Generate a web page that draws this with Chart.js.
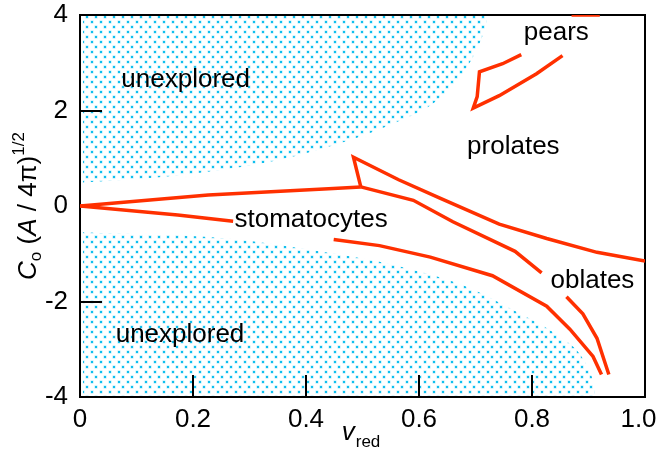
<!DOCTYPE html>
<html>
<head>
<meta charset="utf-8">
<script src="https://cdn.jsdelivr.net/npm/chart.js@4.4.1/dist/chart.umd.min.js"></script>
<style>
  html, body { margin: 0; padding: 0; background: #fff; }
  #wrap { width: 657px; height: 450px; }
</style>
</head>
<body>
<div id="wrap"><canvas id="c" width="657" height="450"></canvas></div>
<script>
// ---------- data ----------
const xTickValues = [0, 0.2, 0.4, 0.6, 0.8, 1.0];
const xTickLabels = ['0', '0.2', '0.4', '0.6', '0.8', '1.0'];
const yTickValues = [-4, -2, 0, 2, 4];
const yTickLabels = ['-4', '-2', '0', '2', '4'];
const xInnerTicks = [0.2, 0.4, 0.6, 0.8];
const yInnerTicks = [-2, 2];

// boundary of the upper "unexplored" region
const upperUnexploredX = [0.005, 0.15, 0.33, 0.44, 0.559, 0.635, 0.694, 0.72, 0.722];
const upperUnexploredY = [0.49, 0.61, 0.91, 1.24, 1.75, 2.24, 3.09, 3.87, 4.0];
// boundary of the lower "unexplored" region
const lowerUnexploredX = [0.005, 0.26, 0.44, 0.56, 0.68, 0.77, 0.85, 0.89, 0.91, 0.912];
const lowerUnexploredY = [-0.55, -0.68, -0.98, -1.25, -1.67, -2.2, -2.75, -3.2, -3.8, -4.0];

// upper stomatocyte boundary
const stomaUpperX = [0, 0.227, 0.44, 0.497];
const stomaUpperY = [0, 0.23, 0.36, 0.40];
// lower stomatocyte boundary (gap under the label)
const stomaLowerX = [0, 0.173, 0.271, null, 0.449, 0.53, 0.62, 0.73, 0.826, 0.867, 0.908, 0.923];
const stomaLowerY = [0, -0.19, -0.32, null, -0.70, -0.83, -1.07, -1.46, -2.10, -2.58, -3.15, -3.53];
// spike and upper oblate boundary
const oblateUpperX = [0.497, 0.484, 0.564, 0.636, 0.742, 0.826, 0.915, 1.0];
const oblateUpperY = [0.40, 1.02, 0.55, 0.17, -0.38, -0.68, -0.97, -1.15];
// lower oblate boundary (gap under the label)
const oblateLowerX = [0.497, 0.59, 0.66, 0.77, 0.817, null, 0.861, 0.890, 0.915, 0.936];
const oblateLowerY = [0.40, 0.12, -0.33, -0.95, -1.40, null, -1.90, -2.26, -2.77, -3.53];
// pear region (gap under the label)
const pearsX = [0.87, 0.92, null, 0.854, 0.808, 0.742, 0.696, 0.703, 0.707, 0.748, 0.781];
const pearsY = [4.0, 4.0, null, 3.15, 2.77, 2.31, 2.05, 2.29, 2.81, 2.98, 3.17];

// region labels (x centre, y baseline in data units)
const regionLabels = ['unexplored', 'unexplored', 'stomatocytes', 'prolates', 'pears', 'oblates'];
const regionLabelX = [0.187, 0.177, 0.409, 0.767, 0.843, 0.907];
const regionLabelY = [2.50, -2.84, -0.44, 1.08, 3.47, -1.71];

// ---------- styling ----------
const FONT = '"Liberation Sans", Arial, Helvetica, sans-serif';
const RED = '#ff3000';
const DOT = '#10bfee';
const DOT_HALO = 'rgba(16,191,238,0.35)';

function pts(xs, ys) { return xs.map((x, i) => ({ x: x, y: ys[i] })); }

const ctx = document.getElementById('c').getContext('2d');

function dotPattern() {
  const c = document.createElement('canvas');
  c.width = 9; c.height = 10;
  const g = c.getContext('2d');
  [[1, 1], [5, 6]].forEach(([x, y]) => {
    g.fillStyle = DOT_HALO;
    g.fillRect(x - 0.5, y - 0.5, 3, 3);
    g.fillStyle = DOT;
    g.fillRect(x, y, 2, 2);
  });
  return ctx.createPattern(c, 'repeat');
}
const pattern = dotPattern();

function regionDs(xs, ys, fillTo) {
  return {
    data: pts(xs, ys), fill: fillTo, backgroundColor: pattern,
    borderWidth: 0, borderColor: 'rgba(0,0,0,0)', pointRadius: 0,
    tension: 0.3, cubicInterpolationMode: 'monotone', order: 2, isRegion: true
  };
}
function curveDs(xs, ys) {
  return {
    data: pts(xs, ys), fill: false, borderColor: RED, borderWidth: 3.5,
    pointRadius: 0, tension: 0, spanGaps: false, borderJoinStyle: 'miter',
    borderCapStyle: 'butt', order: 1, isCurve: true
  };
}

function drawFrame(chart) {
  const a = chart.chartArea, c = chart.ctx;
  const xs = chart.scales.x, ys = chart.scales.y;
  c.save();
  c.strokeStyle = '#000';
  c.lineWidth = 2;
  c.strokeRect(a.left, a.top, a.right - a.left, a.bottom - a.top);
  c.beginPath();
  xInnerTicks.forEach(v => {
    const p = Math.round(xs.getPixelForValue(v));
    c.moveTo(p, a.bottom); c.lineTo(p, a.bottom - 22);
  });
  yInnerTicks.forEach(v => {
    const p = Math.round(ys.getPixelForValue(v));
    c.moveTo(a.left, p); c.lineTo(a.left + 22, p);
  });
  c.stroke();
  c.restore();
}

const overlay = {
  id: 'overlay',
  beforeDatasetsDraw(chart) { chart.$frameDone = false; },
  beforeDatasetDraw(chart, args) {
    if (!chart.$frameDone && chart.data.datasets[args.index].isCurve) {
      drawFrame(chart); chart.$frameDone = true;
    }
  },
  afterDatasetsDraw(chart) {
    if (!chart.$frameDone) { drawFrame(chart); chart.$frameDone = true; }
    const c = chart.ctx, xs = chart.scales.x, ys = chart.scales.y;
    c.save();
    c.fillStyle = '#000';
    c.font = '26px ' + FONT;
    c.textAlign = 'center';
    c.textBaseline = 'alphabetic';
    regionLabels.forEach((t, i) => {
      c.fillText(t, xs.getPixelForValue(regionLabelX[i]), ys.getPixelForValue(regionLabelY[i]));
    });
    c.restore();
  },
  afterDraw(chart) {
    const c = chart.ctx, a = chart.chartArea;
    c.save();
    c.fillStyle = '#000';
    c.textBaseline = 'alphabetic';
    c.textAlign = 'left';
    // x title: v_red
    const big = '26px ' + FONT, bigI = 'italic 26px ' + FONT, small = '17px ' + FONT;
    c.font = bigI; const wv = c.measureText('v').width;
    c.font = small; const wr = c.measureText('red').width;
    let x0 = (a.left + a.right) / 2 - (wv + wr) / 2 - 2;
    c.font = bigI; c.fillText('v', x0, 440);
    c.font = small; c.fillText('red', x0 + wv + 1, 447);
    // y title: C_o (A / 4π)^{1/2}
    const parts = [
      { t: 'C', f: bigI, dy: 0 },
      { t: 'o', f: small, dy: 5 },
      { t: ' (', f: big, dy: 0 },
      { t: 'A', f: bigI, dy: 0 },
      { t: ' / 4π)', f: big, dy: 0 },
      { t: '1/2', f: small, dy: -12 }
    ];
    let total = 0;
    parts.forEach(p => { c.font = p.f; p.w = c.measureText(p.t).width; total += p.w; });
    c.translate(36, (a.top + a.bottom) / 2);
    c.rotate(-Math.PI / 2);
    let px = -total / 2;
    parts.forEach(p => { c.font = p.f; c.fillText(p.t, px, p.dy); px += p.w; });
    c.restore();
  }
};

new Chart(ctx, {
  type: 'line',
  data: {
    datasets: [
      regionDs(upperUnexploredX, upperUnexploredY, 'end'),
      regionDs(lowerUnexploredX, lowerUnexploredY, 'start'),
      curveDs(stomaUpperX, stomaUpperY),
      curveDs(stomaLowerX, stomaLowerY),
      curveDs(oblateUpperX, oblateUpperY),
      curveDs(oblateLowerX, oblateLowerY),
      curveDs(pearsX, pearsY)
    ]
  },
  options: {
    responsive: false,
    animation: false,
    devicePixelRatio: 1,
    parsing: true,
    layout: { padding: { top: 15, right: 12, left: 0, bottom: 0 } },
    plugins: { legend: { display: false }, tooltip: { enabled: false } },
    scales: {
      x: {
        type: 'linear', min: 0, max: 1,
        grid: { display: false, drawTicks: false },
        border: { display: false },
        ticks: {
          color: '#000', font: { family: FONT, size: 26 }, padding: 7,
          maxRotation: 0, autoSkip: false,
          callback: (v, i) => xTickLabels[i] + (i === xTickLabels.length - 1 ? '\u2002' : '')
        },
        afterBuildTicks: s => { s.ticks = xTickValues.map(v => ({ value: v })); },
        afterFit: s => { s.height = 53; s.paddingLeft = 0; s.paddingRight = 0; }
      },
      y: {
        type: 'linear', min: -4, max: 4,
        grid: { display: false, drawTicks: false },
        border: { display: false },
        ticks: {
          color: '#000', font: { family: FONT, size: 26 }, padding: 12,
          autoSkip: false,
          callback: (v, i) => yTickLabels[i]
        },
        afterBuildTicks: s => { s.ticks = yTickValues.map(v => ({ value: v })); },
        afterFit: s => { s.width = 80; s.paddingTop = 0; s.paddingBottom = 0; }
      }
    }
  },
  plugins: [overlay]
});
</script>
</body>
</html>
